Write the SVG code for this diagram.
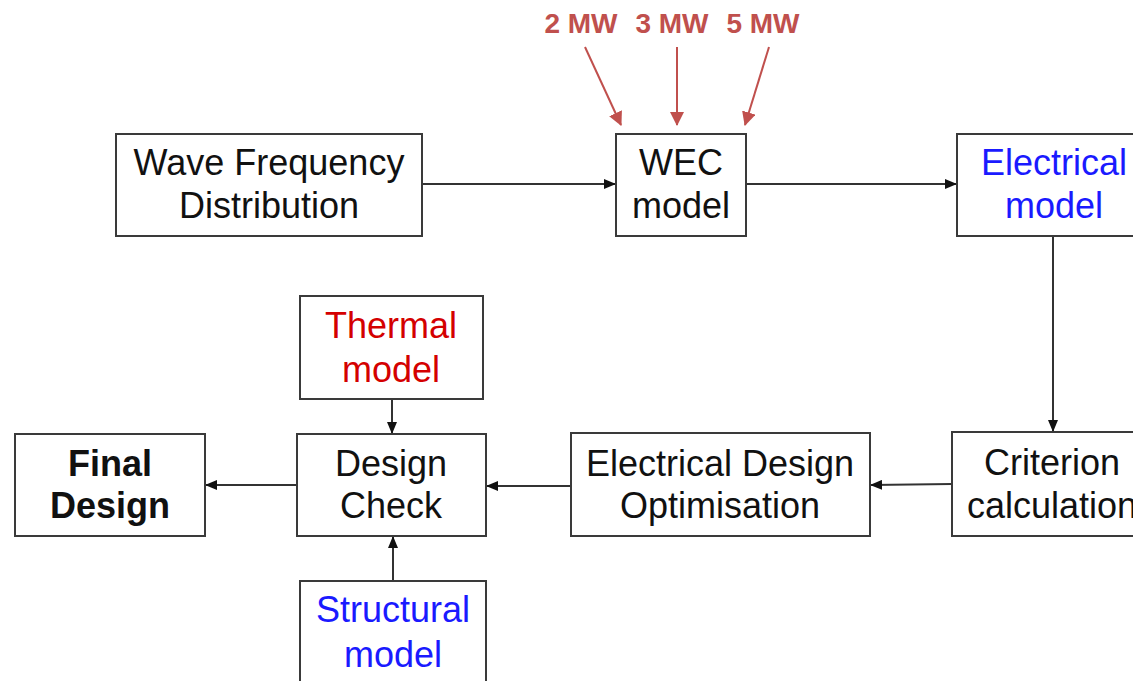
<svg xmlns="http://www.w3.org/2000/svg" width="1133" height="681" viewBox="0 0 1133 681">
<defs>
<style>
.box{fill:#fff;stroke:#3a3a3a;stroke-width:2}
.t{font-family:"Liberation Sans",Arial,sans-serif;font-size:36px;text-anchor:middle;fill:#111}
.b{font-weight:bold}
.blue{fill:#1a1aff}
.red{fill:#d40000}
.mw{font-family:"Liberation Sans",Arial,sans-serif;font-size:28px;font-weight:bold;text-anchor:middle;fill:#c0504d}
.c{stroke:#333;stroke-width:2;fill:none}
.cr{stroke:#c0504d;stroke-width:2;fill:none}
</style>
<marker id="ah" markerWidth="12" markerHeight="10" refX="11" refY="5" orient="auto" markerUnits="userSpaceOnUse">
<path d="M0,0 L12,5 L0,10 Z" fill="#111"/>
</marker>
<marker id="ahr" markerWidth="14" markerHeight="14" refX="13" refY="7" orient="auto" markerUnits="userSpaceOnUse">
<path d="M0,0 L14,7 L0,14 Z" fill="#c0504d"/>
</marker>
</defs>
<rect width="1133" height="681" fill="#fff"/>
<g id="connectors">
<line class="c" x1="422" y1="184" x2="615" y2="184" marker-end="url(#ah)"/>
<line class="c" x1="746" y1="184" x2="956" y2="184" marker-end="url(#ah)"/>
<line class="c" x1="1053" y1="236" x2="1053" y2="431" marker-end="url(#ah)"/>
<line class="c" x1="952" y1="484" x2="871" y2="485" marker-end="url(#ah)"/>
<line class="c" x1="571" y1="486" x2="487" y2="486" marker-end="url(#ah)"/>
<line class="c" x1="297" y1="485" x2="206" y2="485" marker-end="url(#ah)"/>
<line class="c" x1="392" y1="399" x2="392" y2="433" marker-end="url(#ah)"/>
<line class="c" x1="393" y1="581" x2="393" y2="537" marker-end="url(#ah)"/>
<line class="cr" x1="585" y1="47" x2="621" y2="125" marker-end="url(#ahr)"/>
<line class="cr" x1="677" y1="47" x2="677" y2="125" marker-end="url(#ahr)"/>
<line class="cr" x1="769" y1="47" x2="745" y2="125" marker-end="url(#ahr)"/>
</g>
<g id="labels">
<text class="mw" x="581" y="33">2 MW</text>
<text class="mw" x="672" y="33">3 MW</text>
<text class="mw" x="763" y="33">5 MW</text>
</g>
<g id="wave">
<rect class="box" x="116" y="134" width="306" height="102"/>
<text class="t" x="269" y="175">Wave Frequency</text>
<text class="t" x="269" y="218">Distribution</text>
</g>
<g id="wec">
<rect class="box" x="616" y="134" width="130" height="102"/>
<text class="t" x="681" y="175">WEC</text>
<text class="t" x="681" y="218">model</text>
</g>
<g id="electrical">
<rect class="box" x="957" y="134" width="200" height="102"/>
<text class="t blue" x="1054" y="175">Electrical</text>
<text class="t blue" x="1054" y="218">model</text>
</g>
<g id="criterion">
<rect class="box" x="952" y="432" width="200" height="104"/>
<text class="t" x="1052" y="475">Criterion</text>
<text class="t" x="1052" y="518">calculation</text>
</g>
<g id="optimisation">
<rect class="box" x="571" y="433" width="299" height="103"/>
<text class="t" x="720" y="476">Electrical Design</text>
<text class="t" x="720" y="518">Optimisation</text>
</g>
<g id="designcheck">
<rect class="box" x="297" y="434" width="189" height="102"/>
<text class="t" x="391" y="476">Design</text>
<text class="t" x="391" y="518">Check</text>
</g>
<g id="final">
<rect class="box" x="15" y="434" width="190" height="102"/>
<text class="t b" x="110" y="476">Final</text>
<text class="t b" x="110" y="518">Design</text>
</g>
<g id="thermal">
<rect class="box" x="300" y="296" width="183" height="103"/>
<text class="t red" x="391" y="338">Thermal</text>
<text class="t red" x="391" y="382">model</text>
</g>
<g id="structural">
<rect class="box" x="300" y="581" width="186" height="120"/>
<text class="t blue" x="393" y="622">Structural</text>
<text class="t blue" x="393" y="667">model</text>
</g>
</svg>
